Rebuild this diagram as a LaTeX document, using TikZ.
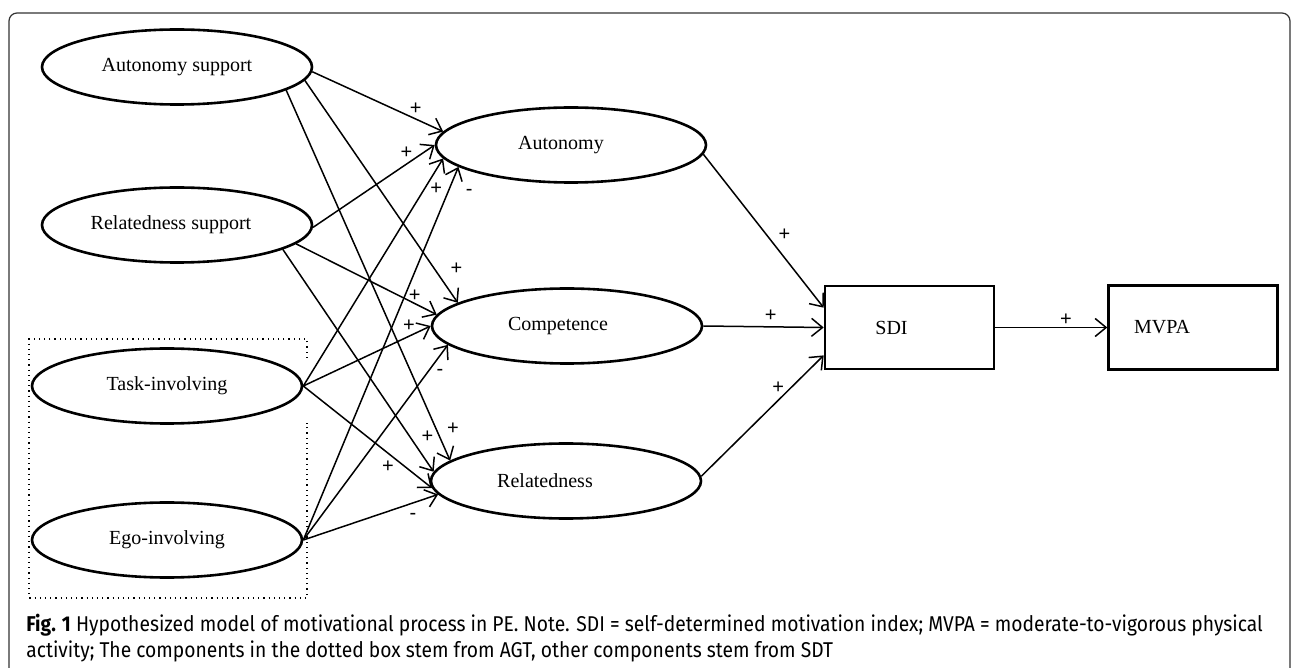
\documentclass[tikz,border=0pt]{standalone}
\usepackage{fontspec}
\setmainfont{Liberation Serif}
\newfontfamily\capfont[FakeStretch=0.9]{Fira Sans}
\newfontfamily\signfont{Liberation Sans}
\usetikzlibrary{arrows.meta,positioning,shapes.geometric}

\begin{document}
\begin{tikzpicture}[x=0.5pt,y=-0.5pt,
  every node/.style={font=\fontsize{10}{12}\selectfont},
  construct/.style={ellipse,draw,line width=1.3pt,minimum width=135pt,minimum height=37.5pt,inner sep=0pt},
  outcome/.style={rectangle,draw,line width=1.3pt,minimum width=84.5pt,minimum height=41.5pt,inner sep=0pt},
  link/.style={-{Straight Barb[length=5.5pt,width=9pt]},line width=0.75pt},
  sgn/.style={font=\signfont\fontsize{10}{12}\selectfont,inner sep=0pt},
  captext/.style={anchor=base west,inner sep=0pt,font=\capfont\fontsize{10.7}{13.5}\selectfont}
]
\useasboundingbox (0,0) rectangle (1292,668);
\draw[line width=0.6pt,black!80,rounded corners=4pt] (9,668) -- (9,13) -- (1290,13) -- (1290,668);

% SDT and AGT antecedents
\node[construct] (asup) at (177,67) {Autonomy support};
\node[construct] (rsup) at (177,225) {Relatedness support\hspace*{6pt}};
\node[construct] (task) at (167,386) {Task-involving};
\node[construct] (ego) at (167,540) {Ego-involving};
\draw[dotted,line width=0.6pt] (307,358) -- (307,339) -- (29,339) -- (29,598) -- (307,598) -- (307,423);

% basic needs
\node[construct] (aut) at (571,145) {Autonomy\hspace*{10pt}};
\node[construct] (comp) at (567,326) {Competence\hspace*{9pt}};
\node[construct] (rel) at (566,481) {Relatedness\hspace*{21pt}};

% outcomes
\node[outcome] (sdi) at (909.5,327.5) {SDI\hspace*{18pt}};
\node[outcome,right=56pt of sdi,minimum height=42pt] (mvpa) {MVPA\hspace*{31pt}};

\draw[link] (asup.-2) -- node[sgn,pos=.76,xshift=2pt,yshift=4.3pt] {+} (aut.174);
\draw[link] (asup.-6) -- node[sgn,pos=.89,xshift=7.7pt,yshift=4.9pt] {+} (comp.168);
\draw[link] (asup.-12) -- node[sgn,pos=.93,xshift=7.2pt,yshift=3.2pt] {+} (rel.170);
\draw[link] (rsup.-1) -- node[sgn,pos=.81,xshift=-2.6pt,yshift=3.9pt] {+} (aut.180);
\draw[link] (rsup.-9) -- node[sgn,pos=.82,xshift=1.7pt,yshift=3.3pt] {+} (comp.175);
\draw[link] (rsup.-13) -- node[sgn,pos=.88,xshift=6pt,yshift=4pt] {+} (rel.176);
\draw[link] (task.east) -- node[sgn,pos=.89,xshift=4.2pt,yshift=-2.6pt] {+} (aut.186);
\draw[link] (task.east) -- node[sgn,pos=.86,xshift=-1.9pt,yshift=4.1pt] {+} (comp.west);
\draw[link] (task.east) -- node[sgn,pos=.71,xshift=-3.3pt,yshift=-4.3pt] {+} (rel.183);
\draw[link] (ego.east) -- node[sgn,pos=.95,xshift=9.3pt,yshift=-3.7pt] {-} (aut.191);
\draw[link] (ego.east) -- node[sgn,pos=.89,xshift=4pt,yshift=-2.9pt] {-} (comp.189);
\draw[link] (ego.east) -- node[sgn,pos=.78,xshift=2.2pt,yshift=-6.2pt] {-} (rel.186);

\draw[link] (aut.-4) -- node[sgn,pos=.58,xshift=5.7pt,yshift=4.5pt] {+} (sdi.167);
\draw[link] (comp.east) -- node[sgn,pos=.56,yshift=5.5pt] {+} (sdi.west);
\draw[link] (rel.2) -- node[sgn,pos=.68,xshift=-3.2pt,yshift=3.4pt] {+} (sdi.198);
\draw[link] (sdi) -- node[sgn,pos=.63,yshift=4pt] {+} (mvpa);

% caption
\node[captext] (cap1) at (26,631) {\textbf{Fig. 1} Hypothesized model of motivational process in PE. Note. SDI = self-determined motivation index; MVPA = moderate-to-vigorous physical};
\node[captext] (cap2) at (26,657) {activity; The components in the dotted box stem from AGT, other components stem from SDT};
\end{tikzpicture}
\end{document}
